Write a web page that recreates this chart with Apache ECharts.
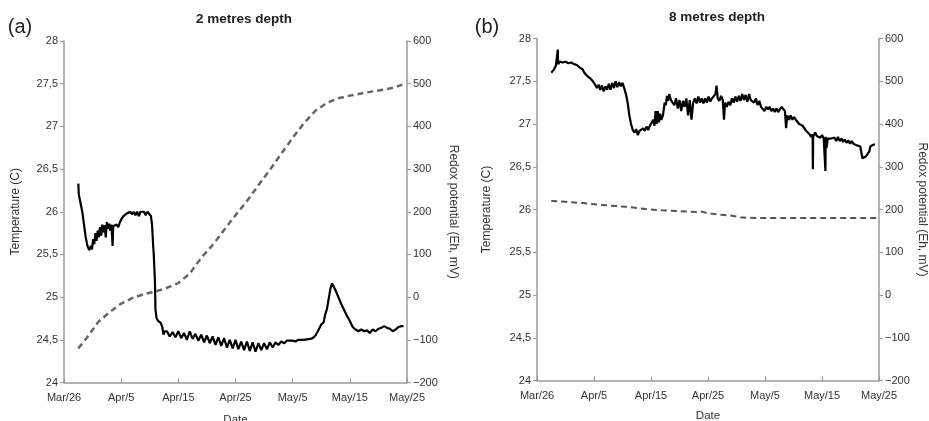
<!DOCTYPE html>
<html>
<head>
<meta charset="utf-8">
<style>html,body{margin:0;padding:0;background:#fff;}#c{width:929px;height:421px;}</style>
<script src="https://cdn.jsdelivr.net/npm/echarts@6/dist/echarts.min.js"></script>
</head>
<body>
<div id="c"></div>
<script>
// Days since Mar/26 on the x axis
var dateTicks = ['Mar/26','Apr/5','Apr/15','Apr/25','May/5','May/15','May/25'];
var tempTicks = ['24','24,5','25','25,5','26','26,5','27','27,5','28'];
var redoxTicks = ['\u2212200','\u2212100','0','100','200','300','400','500','600'];

// Panel (a) 2 m depth: temperature (C)
var tempA = [[2.5,26.33],[2.6,26.2],[2.9,26.1],[3.2,26.0],[3.5,25.85],[3.8,25.7],[4.1,25.6],[4.4,25.55],[4.7,25.6],[4.9,25.56],
[5.1,25.68],[5.3,25.62],[5.5,25.75],[5.7,25.66],[5.9,25.78],[6.1,25.7],[6.3,25.82],[6.5,25.72],[6.7,25.85],[6.9,25.76],
[7.1,25.84],[7.3,25.7],[7.5,25.88],[7.7,25.8],[7.9,25.86],[8.1,25.78],[8.3,25.85],[8.5,25.6],[8.6,25.83],[8.9,25.82],
[9.2,25.85],[9.5,25.82],[9.8,25.88],[10.1,25.92],[10.4,25.95],[10.7,25.97],[11.0,25.98],[11.3,25.96],[11.6,26.0],[11.9,25.97],
[12.2,26.0],[12.5,25.96],[12.8,26.0],[13.1,25.95],[13.4,26.0],[13.7,25.98],[14.0,26.0],[14.3,25.96],[14.6,26.0],[14.9,25.98],
[15.2,25.95],[15.4,25.85],[15.6,25.6],[15.7,25.5],[15.9,25.2],[16.0,24.85],[16.2,24.75],[16.5,24.72],[16.9,24.7],[17.2,24.65],
[17.4,24.56],[17.6,24.6],[18.0,24.6],[18.5,24.54],[19.0,24.59],[19.5,24.53],[20.0,24.6],[20.5,24.52],[21.0,24.58],[21.5,24.5],
[22.0,24.6],[22.5,24.51],[23.0,24.57],[23.5,24.49],[24.0,24.56],[24.5,24.47],[25.0,24.55],[25.5,24.46],[26.0,24.54],[26.5,24.44],
[27.0,24.53],[27.5,24.43],[28.0,24.52],[28.5,24.41],[29.0,24.5],[29.5,24.4],[30.0,24.5],[30.5,24.39],[31.0,24.48],[31.5,24.38],
[32.0,24.48],[32.5,24.37],[33.0,24.47],[33.5,24.36],[34.0,24.46],[34.5,24.38],[35.0,24.46],[35.5,24.39],[36.0,24.47],[36.5,24.41],
[37.0,24.47],[37.5,24.44],[38.0,24.48],[38.5,24.46],[39.0,24.49],[40.0,24.49],[40.5,24.48],[41.0,24.5],[42.0,24.5],[43.0,24.51],
[43.5,24.52],[44.0,24.55],[44.4,24.6],[44.7,24.58],[45.0,24.68],[45.4,24.7],[45.7,24.8],[46.0,24.86],[46.3,24.88],[46.6,25.1],
[46.9,25.16],[47.2,25.15],[47.5,25.08],[48.0,25.0],[48.5,24.92],[49.0,24.85],[49.5,24.78],[50.0,24.72],[50.5,24.65],[51.0,24.62],
[51.5,24.6],[52.0,24.62],[52.5,24.6],[53.0,24.61],[53.5,24.58],[54.0,24.62],[54.5,24.6],[55.0,24.63],[55.5,24.64],[56.0,24.66],
[56.5,24.64],[57.0,24.63],[57.5,24.6],[58.0,24.62],[58.5,24.65],[59.0,24.66],[59.4,24.66]];

// Panel (a) 2 m depth: redox potential (Eh, mV)
var redoxA = [[2.5,-120],[4,-95],[6,-58],[8,-35],[10,-15],[12,-2],[14,7],[16,13],[18,22],[20,33],[22,55],[24,92],[26,122],
[28,157],[30,192],[32,225],[34,262],[36,298],[38,336],[40,373],[42,408],[44,437],[46,455],[48,466],[50,472],[52,477],
[54,482],[56,486],[58,492],[59.6,500]];

// Panel (b) 8 m depth: temperature (C)
var tempB = [[2.5,27.6],[2.9,27.63],[3.3,27.68],[3.6,27.7],[3.65,27.87],[3.7,27.7],[4.0,27.73],[4.5,27.72],[5,27.73],[5.5,27.71],
[6,27.72],[6.5,27.7],[7,27.69],[7.5,27.66],[8,27.64],[8.3,27.6],[8.6,27.62],[9,27.55],[9.4,27.53],[9.8,27.5],[10.2,27.46],
[10.5,27.42],[10.8,27.46],[11.1,27.4],[11.4,27.45],[11.7,27.38],[12,27.44],[12.3,27.4],[12.6,27.47],[12.9,27.4],[13.2,27.48],
[13.5,27.42],[13.8,27.5],[14.1,27.43],[14.4,27.49],[14.7,27.44],[15.0,27.48],[15.3,27.42],[15.6,27.35],[15.9,27.25],[16.2,27.1],
[16.5,27.0],[16.8,26.93],[17.1,26.9],[17.4,26.94],[17.7,26.87],[18,26.92],[18.3,26.9],[18.6,26.95],[18.9,26.92],[19.2,26.97],
[19.5,26.93],[19.8,26.98],[20.1,26.96],[20.4,27.05],[20.6,26.98],[20.8,27.15],[21,27.0],[21.2,27.15],[21.4,27.02],[21.6,27.12],
[21.8,27.05],[22.1,27.1],[22.4,27.25],[22.6,27.22],[22.8,27.33],[23.0,27.27],[23.2,27.35],[23.5,27.28],[23.8,27.3],[24.1,27.22],
[24.4,27.3],[24.7,27.18],[25,27.28],[25.3,27.15],[25.6,27.27],[25.9,27.2],[26.2,27.3],[26.5,27.1],[26.8,27.28],[27.1,27.05],
[27.4,27.25],[27.7,27.3],[28,27.24],[28.3,27.32],[28.6,27.25],[28.9,27.3],[29.2,27.24],[29.5,27.3],[29.8,27.25],[30.1,27.32],
[30.4,27.26],[30.7,27.3],[31,27.28],[31.3,27.35],[31.5,27.45],[31.7,27.3],[32,27.27],[32.3,27.33],[32.6,27.28],[32.8,27.05],
[33,27.25],[33.3,27.2],[33.6,27.26],[33.9,27.22],[34.2,27.3],[34.5,27.25],[34.8,27.32],[35.1,27.26],[35.4,27.33],[35.7,27.27],
[36,27.35],[36.3,27.28],[36.6,27.34],[36.9,27.26],[37.2,27.35],[37.5,27.28],[37.8,27.3],[38.1,27.25],[38.4,27.3],[38.7,27.22],
[39,27.27],[39.3,27.2],[39.6,27.2],[39.9,27.15],[40.2,27.2],[40.5,27.17],[40.8,27.2],[41.1,27.15],[41.4,27.18],[41.7,27.14],
[42,27.18],[42.3,27.14],[42.6,27.17],[42.9,27.2],[43.2,27.2],[43.5,27.15],[43.7,26.95],[43.9,27.1],[44.2,27.05],[44.5,27.1],
[44.8,27.05],[45.1,27.08],[45.4,27.05],[45.7,27.06],[46,27.0],[46.3,27.02],[46.6,26.98],[46.9,26.96],[47.2,26.92],[47.5,26.92],
[47.8,26.88],[48.1,26.85],[48.35,26.88],[48.4,26.47],[48.45,26.85],[48.8,26.9],[49.1,26.86],[49.4,26.88],[49.7,26.84],[50,26.87],
[50.3,26.83],[50.55,26.85],[50.6,26.45],[50.65,26.85],[50.8,26.72],[51,26.83],[51.3,26.82],[51.6,26.83],[51.9,26.81],[52.2,26.84],
[52.5,26.8],[52.8,26.85],[53.1,26.8],[53.4,26.83],[53.7,26.79],[54,26.82],[54.3,26.78],[54.6,26.81],[54.9,26.77],[55.2,26.8],
[55.5,26.77],[55.8,26.79],[56.1,26.75],[56.4,26.77],[56.7,26.74],[57,26.75],[57.1,26.6],[57.4,26.6],[57.7,26.62],[58,26.63],
[58.3,26.68],[58.5,26.74],[58.8,26.72],[59.1,26.76],[59.3,26.76]];

// Panel (b) 8 m depth: redox potential (Eh, mV)
var redoxB = [[2.5,220],[5,218],[8,215],[11,211],[13,209],[16,206],[19,201],[22,198],[25,196],[28,194],[29,195],[30,191],
[32,188],[34,186],[36,181],[40,180],[45,180],[50,180],[55,180],[59.5,180]];

var AX = '#9a9a9a', TX = '#333';
var FONT = 'Liberation Sans, Arial, sans-serif';

function xAx(gi, gap){
  return {type:'value', gridIndex:gi, min:0, max:60, interval:10,
    name:'Date', nameLocation:'middle', nameGap:gap, nameTextStyle:{color:TX,fontSize:11.5,fontFamily:FONT},
    axisLine:{show:true,onZero:false,lineStyle:{color:AX,width:1.5}},
    axisTick:{show:true,inside:true,length:4,lineStyle:{color:AX,width:1.2}},
    axisLabel:{color:TX,fontSize:11,fontFamily:FONT,margin:10,showMinLabel:true,showMaxLabel:true,
      formatter:function(v){return dateTicks[Math.round(v/10)];}},
    splitLine:{show:false}};
}
function yTemp(gi, gap){
  return {type:'value', gridIndex:gi, position:'left', min:24, max:28, interval:0.5,
    name:'Temperature (C)', nameLocation:'middle', nameGap:gap, nameRotate:90,
    nameTextStyle:{color:TX,fontSize:12,fontFamily:FONT},
    axisLine:{show:true,onZero:false,lineStyle:{color:AX,width:1.5}},
    axisTick:{show:true,length:4,lineStyle:{color:AX,width:1.2}},
    axisLabel:{color:TX,fontSize:11,fontFamily:FONT,margin:6,
      formatter:function(v){return tempTicks[Math.round((v-24)/0.5)];}},
    splitLine:{show:false}};
}
function yRedox(gi, gap){
  return {type:'value', gridIndex:gi, position:'right', min:-200, max:600, interval:100,
    name:'Redox potential (Eh, mV)', nameLocation:'middle', nameGap:gap, nameRotate:-90,
    nameTextStyle:{color:TX,fontSize:12,fontFamily:FONT},
    axisLine:{show:true,onZero:false,lineStyle:{color:AX,width:1.5}},
    axisTick:{show:true,length:4,lineStyle:{color:AX,width:1.2}},
    axisLabel:{color:TX,fontSize:11,fontFamily:FONT,margin:6,
      formatter:function(v){return redoxTicks[Math.round((v+200)/100)];}},
    splitLine:{show:false}};
}
function txt(x,y,s,font){
  return {type:'text', x:x, y:y, style:{text:s, font:font, fill:'#222', align:'center', verticalAlign:'middle', textAlign:'center', textVerticalAlign:'middle'}};
}

var chart = echarts.init(document.getElementById('c'), null, {renderer:'canvas'});
chart.setOption({
  animation:false,
  backgroundColor:'#fff',
  grid:[
    {left:64, top:41, width:343, height:341.5, containLabel:false, outerBoundsMode:'none'},
    {left:537, top:38.5, width:342, height:342, containLabel:false, outerBoundsMode:'none'}
  ],
  xAxis:[xAx(0,31), xAx(1,29)],
  yAxis:[yTemp(0,42), yRedox(0,40), yTemp(1,44), yRedox(1,37)],
  graphic:[
    txt(20,27,'(a)','20px '+FONT),
    txt(487,27,'(b)','20px '+FONT),
    txt(244,19,'2 metres depth','bold 13.5px '+FONT),
    txt(717,17,'8 metres depth','bold 13.5px '+FONT)
  ],
  series:[
    {type:'line', xAxisIndex:0, yAxisIndex:1, data:redoxA, showSymbol:false, symbol:'none',
      lineStyle:{color:'#666',width:2.5,type:[6,4]}},
    {type:'line', xAxisIndex:0, yAxisIndex:0, data:tempA, showSymbol:false, symbol:'none',
      lineStyle:{color:'#000',width:2.2}},
    {type:'line', xAxisIndex:1, yAxisIndex:3, data:redoxB, showSymbol:false, symbol:'none',
      lineStyle:{color:'#555',width:2,type:[6,4]}},
    {type:'line', xAxisIndex:1, yAxisIndex:2, data:tempB, showSymbol:false, symbol:'none',
      lineStyle:{color:'#000',width:2.2}}
  ]
});
</script>
</body>
</html>
